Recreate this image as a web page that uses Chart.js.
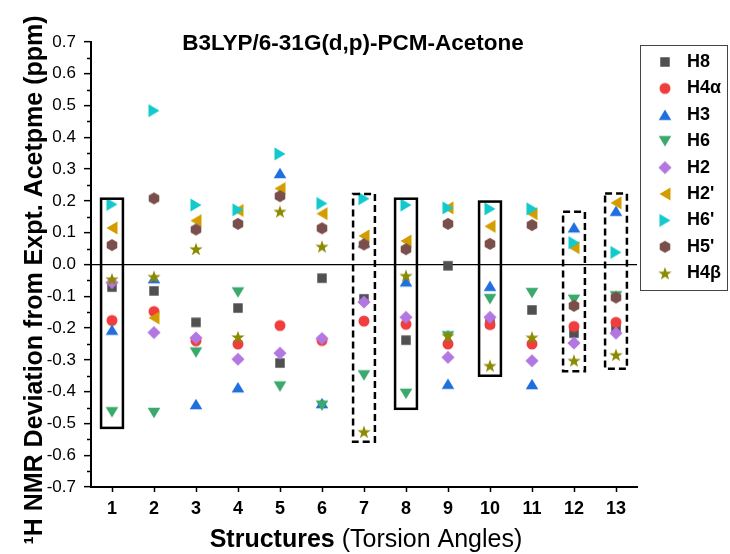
<!DOCTYPE html>
<html><head><meta charset="utf-8">
<script src="https://cdn.jsdelivr.net/npm/chart.js@4.4.1/dist/chart.umd.min.js"></script>
<style>html,body{margin:0;padding:0;background:#fff}#wrap{width:730px;height:554px;position:relative}</style>
</head><body><div id="wrap"><canvas id="c"></canvas></div>
<script>
// ---------- data ----------
const structures = [1, 2, 3, 4, 5, 6, 7, 8, 9, 10, 11, 12, 13];
const seriesNames = ['H8', 'H4α', 'H3', 'H6', 'H2', "H2'", "H6'", "H5'", 'H4β'];
const H8  = [-0.071, -0.083, -0.182, -0.137, -0.310, -0.043, -0.108, -0.238, -0.004, -0.185, -0.143, -0.216, -0.198];
const H4a = [-0.176, -0.148, -0.240, -0.250, -0.192, -0.239, -0.178, -0.188, -0.250, -0.189, -0.250, -0.195, -0.182];
const H3  = [-0.205, -0.043, -0.439, -0.386, 0.288, -0.436, 0.070, -0.053, -0.375, -0.067, -0.376, 0.117, 0.169];
const H6  = [-0.465, -0.467, -0.277, -0.088, -0.384, -0.444, -0.349, -0.407, -0.226, -0.109, -0.090, -0.111, -0.100];
const H2  = [-0.057, -0.214, -0.231, -0.298, -0.279, -0.233, -0.118, -0.166, -0.292, -0.166, -0.303, -0.247, -0.216];
const H2p = [0.115, -0.168, 0.138, 0.170, 0.239, 0.160, 0.090, 0.074, 0.178, 0.120, 0.160, 0.053, 0.194];
const H6p = [0.189, 0.484, 0.187, 0.172, 0.348, 0.192, 0.207, 0.187, 0.178, 0.175, 0.175, 0.069, 0.038];
const H5p = [0.061, 0.208, 0.110, 0.128, 0.215, 0.114, 0.063, 0.048, 0.128, 0.065, 0.124, -0.130, -0.104];
const H4b = [-0.046, -0.038, 0.049, -0.228, 0.167, 0.057, -0.526, -0.035, -0.224, -0.318, -0.229, -0.302, -0.284];
const seriesValues = [H8, H4a, H3, H6, H2, H2p, H6p, H5p, H4b];

const yTickValues = [-0.7, -0.6, -0.5, -0.4, -0.3, -0.2, -0.1, 0, 0.1, 0.2, 0.3, 0.4, 0.5, 0.6, 0.7];
const yTickLabels = ['-0.7', '-0.6', '-0.5', '-0.4', '-0.3', '-0.2', '-0.1', '0.0', '0.1', '0.2', '0.3', '0.4', '0.5', '0.6', '0.7'];
const xTickLabels = ['1', '2', '3', '4', '5', '6', '7', '8', '9', '10', '11', '12', '13'];

// highlighted structures (boxes): structure, top value, bottom value, dashed?
const boxStructures = [1, 7, 8, 10, 12, 13];
const boxTops    = [0.207, 0.222, 0.207, 0.198, 0.166, 0.223];
const boxBottoms = [-0.514, -0.558, -0.454, -0.350, -0.336, -0.328];
const boxDashed  = [false, true, false, false, true, true];

const chartTitle = 'B3LYP/6-31G(d,p)-PCM-Acetone';
const yTitle = '¹H NMR Deviation from Expt. Acetpme (ppm)';
const xTitleBold = 'Structures';
const xTitleNormal = ' (Torsion Angles)';

// ---------- styles ----------
const FONT = "'Liberation Sans', Arial, Helvetica, sans-serif";
const shapes = ['square', 'circle', 'up', 'down', 'diamond', 'left', 'right', 'hexagon', 'star'];
const colors = ['#505050', '#f03d3d', '#1f6fdf', '#3aa96b', '#b277e0', '#d39d00', '#12cacd', '#7a4e4a', '#8c8a00'];

function marker(shape, color) {
  const S = 18, c = document.createElement('canvas');
  c.width = S; c.height = S;
  const g = c.getContext('2d');
  g.fillStyle = color; g.translate(S / 2, S / 2); g.beginPath();
  switch (shape) {
    case 'square': g.rect(-4.75, -4.75, 9.5, 9.5); break;
    case 'circle': g.arc(0, 0, 5.5, 0, Math.PI * 2); break;
    case 'up': g.moveTo(0, -5.3); g.lineTo(6.3, 5.3); g.lineTo(-6.3, 5.3); break;
    case 'down': g.moveTo(0, 5.3); g.lineTo(6.3, -5.3); g.lineTo(-6.3, -5.3); break;
    case 'left': g.moveTo(-5.5, 0); g.lineTo(5.5, -6.4); g.lineTo(5.5, 6.4); break;
    case 'right': g.moveTo(5.5, 0); g.lineTo(-5.5, -6.4); g.lineTo(-5.5, 6.4); break;
    case 'diamond': g.moveTo(0, -6.6); g.lineTo(6.6, 0); g.lineTo(0, 6.6); g.lineTo(-6.6, 0); break;
    case 'hexagon':
      for (let k = 0; k < 6; k++) {
        const a = Math.PI / 180 * (60 * k - 90), px = 6.1 * Math.cos(a), py = 6.1 * Math.sin(a);
        if (k) g.lineTo(px, py); else g.moveTo(px, py);
      }
      break;
    case 'star':
      for (let k = 0; k < 10; k++) {
        const r = k % 2 ? 2.8 : 7, a = Math.PI / 180 * (36 * k - 90);
        const px = r * Math.cos(a), py = r * Math.sin(a) + 0.7;
        if (k) g.lineTo(px, py); else g.moveTo(px, py);
      }
      break;
  }
  g.closePath(); g.fill();
  return c;
}

// layout constants (pixels)
const PLOT_RIGHT = 637;
const LEG_PAD = 8.4, LEG_BOX_W = 26, LEG_FONT = 18;
const LEG_MARKER_X = 665, LEG_FIRST_Y = 62;
const BOX_HALF = 0.26;

const mctx = document.createElement('canvas').getContext('2d');
mctx.font = `bold ${LEG_FONT}px ${FONT}`;
const maxLegText = Math.max(...seriesNames.map(s => mctx.measureText(s).width));
const legendWidth = LEG_PAD + LEG_BOX_W + LEG_FONT / 2 + maxLegText + 10;
const rightPad = Math.max(0, 730 - PLOT_RIGHT - legendWidth);

const datasets = seriesNames.map((name, i) => ({
  label: name,
  data: structures.map((s, j) => ({ x: s, y: seriesValues[i][j] })),
  pointStyle: marker(shapes[i], colors[i]),
  pointRadius: 6,
  pointHoverRadius: 6,
  backgroundColor: colors[i],
  borderColor: colors[i],
  borderWidth: 0,
  order: seriesNames.length - i
}));

const extras = {
  id: 'extras',
  afterLayout(chart) {
    const L = chart.legend;
    if (!L) return;
    const dx = LEG_MARKER_X - (L.left + LEG_PAD + LEG_BOX_W / 2);
    const dy = LEG_FIRST_Y - (L.top + LEG_PAD + LEG_FONT / 2);
    L.left += dx; L.right += dx; L.top += dy; L.bottom += dy;
  },
  afterDatasetsDraw(chart) {
    const { ctx, scales: { x: xs, y: ys } } = chart;
    ctx.save();
    ctx.strokeStyle = '#000';
    ctx.lineWidth = 2.5;
    boxStructures.forEach((s, i) => {
      const x0 = xs.getPixelForValue(s - BOX_HALF), x1 = xs.getPixelForValue(s + BOX_HALF);
      const y0 = ys.getPixelForValue(boxTops[i]), y1 = ys.getPixelForValue(boxBottoms[i]);
      ctx.setLineDash(boxDashed[i] ? [7, 4] : []);
      ctx.strokeRect(x0, y0, x1 - x0, y1 - y0);
    });
    ctx.restore();
  },
  afterDraw(chart) {
    const { ctx, chartArea: ca, scales: { y: ys } } = chart;
    ctx.save();
    // minor ticks on y axis
    ctx.strokeStyle = '#000'; ctx.lineWidth = 1.5;
    for (let i = 0; i < yTickValues.length - 1; i++) {
      const py = Math.round(ys.getPixelForValue((yTickValues[i] + yTickValues[i + 1]) / 2)) + 0.5;
      ctx.beginPath(); ctx.moveTo(ca.left - 4, py); ctx.lineTo(ca.left, py); ctx.stroke();
    }
    // legend frame
    const L = chart.legend;
    const fx = L.left + LEG_PAD - 12, fy = L.top + LEG_PAD - 8;
    const fh = (seriesNames.length - 1) * (LEG_FONT + LEG_PAD) + LEG_FONT + 16;
    ctx.strokeStyle = '#444'; ctx.lineWidth = 1;
    ctx.strokeRect(Math.round(fx) + 0.5, Math.round(fy) + 0.5, 87, Math.round(fh));
    // titles
    ctx.fillStyle = '#000';
    ctx.textBaseline = 'alphabetic';
    ctx.textAlign = 'center';
    ctx.font = `bold 22.5px ${FONT}`;
    ctx.fillText(chartTitle, 353, 50);
    ctx.font = `bold 25px ${FONT}`;
    const w1 = ctx.measureText(xTitleBold).width;
    ctx.font = `25px ${FONT}`;
    const w2 = ctx.measureText(xTitleNormal).width;
    const sx = 366 - (w1 + w2) / 2;
    ctx.textAlign = 'left';
    ctx.font = `bold 25px ${FONT}`;
    ctx.fillText(xTitleBold, sx, 547);
    ctx.font = `25px ${FONT}`;
    ctx.fillText(xTitleNormal, sx + w1, 547);
    ctx.translate(42, 280);
    ctx.rotate(-Math.PI / 2);
    ctx.textAlign = 'center';
    ctx.font = `bold 25px ${FONT}`;
    ctx.fillText(yTitle, 0, 0);
    ctx.restore();
  }
};

new Chart(document.getElementById('c'), {
  type: 'scatter',
  data: { datasets },
  plugins: [extras],
  options: {
    responsive: true,
    maintainAspectRatio: false,
    animation: false,
    events: [],
    layout: { padding: { top: 42, left: 0, bottom: 0, right: rightPad } },
    plugins: {
      title: { display: false },
      tooltip: { enabled: false },
      legend: {
        position: 'right',
        align: 'start',
        labels: {
          usePointStyle: true,
          pointStyleWidth: LEG_BOX_W,
          padding: LEG_PAD,
          color: '#000',
          font: { family: FONT, size: LEG_FONT, weight: 'bold' },
          sort: (a, b) => a.datasetIndex - b.datasetIndex
        }
      }
    },
    scales: {
      x: {
        type: 'linear',
        min: 0.5, max: 13.5,
        afterFit: s => { s.height = 67; },
        afterBuildTicks: s => { s.ticks = structures.map(v => ({ value: v })); },
        border: { display: true, color: '#000', width: 2 },
        grid: { drawOnChartArea: false, drawTicks: true, tickLength: 5, tickColor: '#000', tickWidth: 1.5 },
        ticks: {
          autoSkip: false, maxRotation: 0, padding: 6, color: '#000',
          font: { family: FONT, size: 18, weight: 'bold' },
          callback: (v, i) => xTickLabels[i]
        }
      },
      y: {
        type: 'linear',
        min: -0.7, max: 0.7,
        afterFit: s => { s.width = 91; },
        afterBuildTicks: s => { s.ticks = yTickValues.map(v => ({ value: v })); },
        border: { display: true, color: '#000', width: 2 },
        grid: {
          drawOnChartArea: true, drawTicks: true, tickLength: 7, tickWidth: 1.5, tickColor: '#000',
          color: c => (c.tick && c.tick.value === 0) ? '#000' : 'rgba(0,0,0,0)',
          lineWidth: 1.3
        },
        ticks: {
          autoSkip: false, padding: 8, color: '#000',
          font: { family: FONT, size: 17 },
          callback: (v, i) => yTickLabels[i]
        }
      }
    }
  }
});
</script>
</body></html>
